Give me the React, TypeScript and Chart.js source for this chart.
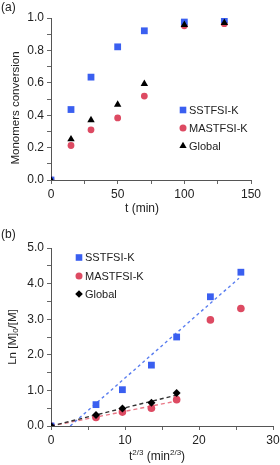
import React, { useEffect, useRef } from 'react';
import { Chart, registerables } from 'chart.js';

Chart.register(...registerables);

const FONT = '"Liberation Sans", Arial, Helvetica, sans-serif';
const TXT = '#222222';
const BLUE = '#3a5ff0';
const PINK = '#dd4a62';
const BLACK = '#000000';

// ---- Panel (a): monomer conversion vs time ----
const timeA = [0, 15, 30, 50, 70, 100, 130];
const sstfsiA = [0, 0.435, 0.635, 0.822, 0.921, 0.975, 0.99];
const mastfsiA = [0, 0.213, 0.31, 0.383, 0.518, 0.952, 0.965];
const globalA = [0, 0.252, 0.37, 0.466, 0.594, 0.958, 0.97];

// ---- Panel (b): Ln[M]0/[M] vs t^(2/3) ----
const timeB = [0, 6.08, 9.65, 13.57, 16.98, 21.54, 25.66];
const sstfsiB = [0, 0.6, 1.02, 1.71, 2.5, 3.63, 4.32];
const mastfsiB = [0, 0.24, 0.39, 0.5, 0.74, 2.98, 3.3];
const globalB = [0, 0.31, 0.49, 0.65, 0.93];
const sstfsiFitX = [2.6, 25.4];
const sstfsiFitY = [0, 4.15];
const mastfsiFitX = [0, 17.2];
const mastfsiFitY = [0, 0.71];
const globalFitX = [0, 17.2];
const globalFitY = [0, 0.88];

const legendNames = ['SSTFSI-K', 'MASTFSI-K', 'Global'];

const pts = (xs: number[], ys: number[]) => ys.map((y, i) => ({ x: xs[i], y }));

function drawMarker(ctx: CanvasRenderingContext2D, kind: string, x: number, y: number, color: string) {
  ctx.save();
  ctx.fillStyle = color;
  ctx.beginPath();
  if (kind === 'rect') {
    ctx.rect(x - 3.3, y - 3.3, 6.6, 6.6);
  } else if (kind === 'circle') {
    ctx.arc(x, y, 3.5, 0, Math.PI * 2);
  } else if (kind === 'triangle') {
    const r = 4.2;
    ctx.moveTo(x, y - r);
    ctx.lineTo(x + r * 0.866, y + r * 0.5);
    ctx.lineTo(x - r * 0.866, y + r * 0.5);
    ctx.closePath();
  } else if (kind === 'diamond') {
    const r = 3.8;
    ctx.moveTo(x, y - r);
    ctx.lineTo(x + r, y);
    ctx.lineTo(x, y + r);
    ctx.lineTo(x - r, y);
    ctx.closePath();
  }
  ctx.fill();
  ctx.restore();
}

type Piece = { t: string; size: number; dy: number };

function drawPieces(ctx: CanvasRenderingContext2D, pieces: Piece[], cx: number, cy: number, rot: number) {
  ctx.save();
  ctx.translate(cx, cy);
  ctx.rotate(rot);
  ctx.fillStyle = TXT;
  ctx.textBaseline = 'middle';
  ctx.textAlign = 'left';
  let total = 0;
  const widths = pieces.map((p) => {
    ctx.font = `${p.size}px ${FONT}`;
    const w = ctx.measureText(p.t).width;
    total += w;
    return w;
  });
  let x = -total / 2;
  pieces.forEach((p, i) => {
    ctx.font = `${p.size}px ${FONT}`;
    ctx.fillText(p.t, x, p.dy);
    x += widths[i];
  });
  ctx.restore();
}

function makeScale(min: number, max: number, step: number, label: (v: number) => string, isX: boolean, fitSize: number) {
  return {
    type: 'linear',
    min,
    max,
    afterFit: (s: any) => {
      if (isX) {
        s.height = fitSize;
        s.paddingLeft = 0;
        s.paddingRight = 0;
      } else {
        s.width = fitSize;
        s.paddingTop = 0;
        s.paddingBottom = 0;
      }
    },
    ticks: {
      stepSize: step,
      autoSkip: false,
      maxRotation: 0,
      padding: isX ? 3 : 3,
      color: TXT,
      font: { family: FONT, size: 12 },
      callback: (v: any) => label(Number(v)),
    },
    grid: {
      display: true,
      drawOnChartArea: false,
      drawTicks: true,
      tickLength: 4,
      color: '#666666',
      lineWidth: 1,
    },
    border: { display: true, color: '#555555', width: 1 },
  };
}

type Extra = {
  panel: string;
  panelY: number;
  legend: { kind: string; color: string; x: number; y: number; text: string }[];
  yTitle: Piece[];
  yTitlePos: [number, number];
  xTitle: Piece[];
  xTitlePos: [number, number];
};

function extrasPlugin(extra: Extra) {
  return {
    id: 'extras' + extra.panel,
    afterDraw(chart: any) {
      const ctx: CanvasRenderingContext2D = chart.ctx;
      ctx.save();
      ctx.fillStyle = TXT;
      ctx.font = `12px ${FONT}`;
      ctx.textBaseline = 'middle';
      ctx.textAlign = 'left';
      ctx.fillText(extra.panel, 1, extra.panelY);
      extra.legend.forEach((l) => {
        drawMarker(ctx, l.kind, l.x, l.y, l.color);
        ctx.fillStyle = TXT;
        ctx.font = `11px ${FONT}`;
        ctx.textBaseline = 'middle';
        ctx.textAlign = 'left';
        ctx.fillText(l.text, l.x + 6, l.y + 0.5);
      });
      ctx.restore();
      drawPieces(ctx, extra.yTitle, extra.yTitlePos[0], extra.yTitlePos[1], -Math.PI / 2);
      drawPieces(ctx, extra.xTitle, extra.xTitlePos[0], extra.xTitlePos[1], 0);
    },
  };
}

function ChartA() {
  const ref = useRef<HTMLCanvasElement>(null);
  useEffect(() => {
    if (!ref.current) return;
    const extra: Extra = {
      panel: '(a)',
      panelY: 8,
      legend: [
        { kind: 'rect', color: BLUE, x: 183, y: 110, text: legendNames[0] },
        { kind: 'circle', color: PINK, x: 183, y: 128, text: legendNames[1] },
        { kind: 'triangle', color: BLACK, x: 183, y: 146, text: legendNames[2] },
      ],
      yTitle: [{ t: 'Monomers conversion', size: 11.5, dy: 0 }],
      yTitlePos: [16, 108],
      xTitle: [{ t: 't (min)', size: 12, dy: 0 }],
      xTitlePos: [142, 209],
    };
    const chart = new Chart(ref.current, {
      type: 'scatter',
      data: {
        datasets: [
          { label: legendNames[2], data: pts(timeA, globalA), pointStyle: 'triangle', pointRadius: 4.3, backgroundColor: BLACK, borderColor: BLACK, borderWidth: 0, order: 0 },
          { label: legendNames[0], data: pts(timeA, sstfsiA), pointStyle: 'rect', pointRadius: 4.8, backgroundColor: BLUE, borderColor: BLUE, borderWidth: 0, order: 1 },
          { label: legendNames[1], data: pts(timeA, mastfsiA), pointStyle: 'circle', pointRadius: 3.4, backgroundColor: PINK, borderColor: PINK, borderWidth: 0, order: 2 },
        ],
      } as any,
      options: {
        responsive: false,
        devicePixelRatio: 1,
        animation: false,
        events: [],
        layout: { padding: { top: 18, right: 29, left: 0, bottom: 0 } },
        plugins: { legend: { display: false }, tooltip: { enabled: false } },
        scales: {
          x: makeScale(0, 150, 25, (v) => (Math.round(v) % 50 === 0 ? String(Math.round(v)) : ''), true, 45),
          y: makeScale(0, 1, 0.1, (v) => (Math.round(v * 10) % 2 === 0 ? v.toFixed(1) : ''), false, 51),
        } as any,
      },
      plugins: [extrasPlugin(extra)],
    } as any);
    return () => chart.destroy();
  }, []);
  return <canvas ref={ref} width={280} height={225} style={{ position: 'absolute', left: 0, top: 0, display: 'block' }} />;
}

function ChartB() {
  const ref = useRef<HTMLCanvasElement>(null);
  useEffect(() => {
    if (!ref.current) return;
    const extra: Extra = {
      panel: '(b)',
      panelY: 10,
      legend: [
        { kind: 'rect', color: BLUE, x: 79, y: 32.5, text: legendNames[0] },
        { kind: 'circle', color: PINK, x: 79, y: 51, text: legendNames[1] },
        { kind: 'diamond', color: BLACK, x: 79, y: 69, text: legendNames[2] },
      ],
      yTitle: [
        { t: 'Ln [M]', size: 11.5, dy: 0 },
        { t: '0', size: 8, dy: 3 },
        { t: '/[M]', size: 11.5, dy: 0 },
      ],
      yTitlePos: [13, 112],
      xTitle: [
        { t: 't', size: 12, dy: 0 },
        { t: '2/3', size: 8, dy: -4 },
        { t: ' (min', size: 12, dy: 0 },
        { t: '2/3', size: 8, dy: -4 },
        { t: ')', size: 12, dy: 0 },
      ],
      xTitlePos: [157, 232],
    };
    const chart = new Chart(ref.current, {
      type: 'scatter',
      data: {
        datasets: [
          { label: legendNames[2], data: pts(timeB, globalB), pointStyle: 'rectRot', pointRadius: 4, backgroundColor: BLACK, borderColor: BLACK, borderWidth: 0, order: 0 },
          { label: legendNames[0], data: pts(timeB, sstfsiB), pointStyle: 'rect', pointRadius: 4.8, backgroundColor: BLUE, borderColor: BLUE, borderWidth: 0, order: 1 },
          { label: legendNames[1], data: pts(timeB, mastfsiB), pointStyle: 'circle', pointRadius: 3.8, backgroundColor: PINK, borderColor: PINK, borderWidth: 0, order: 2 },
          { label: 'fit-sst', data: pts(sstfsiFitX, sstfsiFitY), showLine: true, pointRadius: 0, borderColor: '#5a7ef0', borderWidth: 1.4, borderDash: [3, 3], order: 5 },
          { label: 'fit-mast', data: pts(mastfsiFitX, mastfsiFitY), showLine: true, pointRadius: 0, borderColor: '#ea7887', borderWidth: 1.4, borderDash: [4, 3], order: 5 },
          { label: 'fit-global', data: pts(globalFitX, globalFitY), showLine: true, pointRadius: 0, borderColor: '#333333', borderWidth: 1.4, borderDash: [4, 3], order: 4 },
        ],
      } as any,
      options: {
        responsive: false,
        devicePixelRatio: 1,
        animation: false,
        events: [],
        layout: { padding: { top: 23, right: 7, left: 0, bottom: 0 } },
        plugins: { legend: { display: false }, tooltip: { enabled: false } },
        scales: {
          x: makeScale(0, 30, 5, (v) => (Math.round(v) % 10 === 0 ? String(Math.round(v)) : ''), true, 39),
          y: makeScale(0, 5, 0.5, (v) => (Math.abs(v - Math.round(v)) < 1e-6 ? v.toFixed(1) : ''), false, 51),
        } as any,
      },
      plugins: [extrasPlugin(extra)],
    } as any);
    return () => chart.destroy();
  }, []);
  return <canvas ref={ref} width={280} height={240} style={{ position: 'absolute', left: 0, top: 225, display: 'block' }} />;
}

export default function App() {
  return (
    <div style={{ position: 'absolute', left: 0, top: 0, width: 280, height: 465, overflow: 'hidden', background: '#ffffff' }}>
      <ChartA />
      <ChartB />
    </div>
  );
}
